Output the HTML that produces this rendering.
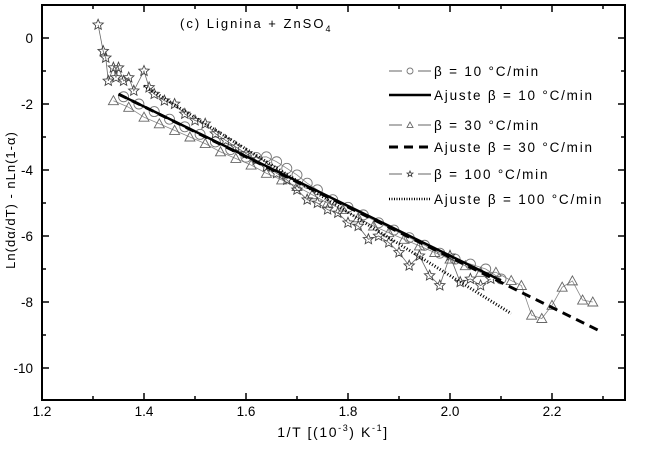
<!DOCTYPE html>
<html><head><meta charset="utf-8"><style>
body{margin:0;background:#fff}
svg text{font-family:"Liberation Sans",sans-serif;fill:#000}
</style></head><body>
<svg id="chart" width="650" height="444" viewBox="0 0 650 444">
<g id="plot"></g>
<rect x="42" y="5" width="583" height="395" fill="none" stroke="#000" stroke-width="2"/>
<g id="axes"></g>
<text x="180" y="28" font-size="13" letter-spacing="2">(c) Lignina + ZnSO<tspan font-size="9" dy="4">4</tspan></text>
<text x="333" y="437" font-size="14" text-anchor="middle" letter-spacing="1.6">1/T  [(10<tspan font-size="9" dy="-6">-3</tspan><tspan dy="6">) K</tspan><tspan font-size="9" dy="-6">-1</tspan><tspan dy="6">]</tspan></text>
<text transform="translate(15,200) rotate(-90)" font-size="13" text-anchor="middle" letter-spacing="1">Ln(dα/dT) - nLn(1-α)</text>
<g id="legend"></g>
</svg>
<script>
const x10=[1.36,1.39,1.42,1.45,1.48,1.51,1.54,1.57,1.60,1.62,1.64,1.66,1.68,1.70,1.72,1.74,1.77,1.80,1.83,1.86,1.89,1.92,1.95,1.98,2.01,2.04,2.07,2.10];
const y10=[-1.78,-2.0,-2.23,-2.46,-2.69,-2.92,-3.15,-3.38,-3.61,-3.62,-3.6,-3.75,-3.95,-4.15,-4.4,-4.6,-4.9,-5.13,-5.36,-5.6,-5.82,-6.05,-6.28,-6.52,-6.7,-6.85,-7.0,-7.3];
const x30=[1.34,1.37,1.40,1.43,1.46,1.49,1.52,1.55,1.58,1.61,1.64,1.67,1.70,1.73,1.76,1.79,1.82,1.85,1.88,1.91,1.94,1.97,2.00,2.03,2.06,2.09,2.12,2.14,2.16,2.18,2.20,2.22,2.24,2.26,2.28];
const y30=[-1.9,-2.1,-2.4,-2.6,-2.8,-3.0,-3.2,-3.45,-3.65,-3.85,-4.1,-4.3,-4.5,-4.75,-5.0,-5.2,-5.45,-5.7,-5.9,-6.1,-6.3,-6.5,-6.7,-6.9,-7.1,-7.1,-7.35,-7.5,-8.4,-8.5,-8.1,-7.55,-7.36,-7.94,-8.0];
const x100=[1.31,1.32,1.325,1.33,1.34,1.345,1.35,1.36,1.37,1.38,1.40,1.41,1.42,1.44,1.46,1.48,1.50,1.52,1.54,1.56,1.58,1.60,1.62,1.64,1.66,1.68,1.70,1.72,1.74,1.76,1.78,1.80,1.82,1.84,1.86,1.88,1.90,1.92,1.94,1.96,1.98,2.00,2.02,2.04,2.06,2.08];
const y100=[0.4,-0.4,-0.6,-1.3,-0.9,-1.2,-0.9,-1.3,-1.2,-1.6,-1.0,-1.5,-1.7,-1.9,-2.0,-2.3,-2.5,-2.6,-2.9,-3.1,-3.3,-3.5,-3.7,-3.9,-4.1,-4.3,-4.6,-4.9,-5.0,-5.2,-5.3,-5.6,-5.7,-6.1,-6.0,-6.2,-6.5,-6.9,-6.6,-7.2,-7.5,-6.6,-7.4,-7.3,-7.5,-7.3];
const fit10X=[1.35,2.10], fit10Y=[-1.7,-7.35];
const fit30X=[1.35,2.29], fit30Y=[-1.7,-8.85];
const fit100X=[1.40,2.12], fit100Y=[-1.45,-8.35];
const xTicks=[1.2,1.4,1.6,1.8,2.0,2.2];
const xTickLabels=["1.2","1.4","1.6","1.8","2.0","2.2"];
const yTicks=[0,-2,-4,-6,-8,-10];
const yTickLabels=["0","-2","-4","-6","-8","-10"];
const legendLabels=["β = 10 °C/min","Ajuste β = 10 °C/min","β = 30 °C/min","Ajuste β = 30 °C/min","β = 100 °C/min","Ajuste β = 100 °C/min"];

const NS="http://www.w3.org/2000/svg";
const X=v=>42+(v-1.2)*510, Y=v=>38-v*33;
function mk(tag,attrs,parent){const e=document.createElementNS(NS,tag);for(const k in attrs)e.setAttribute(k,attrs[k]);parent.appendChild(e);return e;}
const plot=document.getElementById('plot'), axes=document.getElementById('axes'), leg=document.getElementById('legend');

for(let v=1.2;v<2.35;v+=0.1){const px=X(v);const major=Math.abs(Math.round(v*10)%2)===0;const l=major?7:4;
 let t=mk('line',{x1:px,x2:px,y1:400,y2:400-l,stroke:'#000','stroke-width':1.5},axes);
 
 t=mk('line',{x1:px,x2:px,y1:5,y2:5+l,stroke:'#000','stroke-width':1.5},axes);
 }
xTicks.forEach((v,i)=>{const t=mk('text',{x:X(v),y:416,'font-size':13.5,'text-anchor':'middle'},axes);t.textContent=xTickLabels[i];
 });
for(let v=1;v>=-10.9;v-=1){const py=Y(v);const l=(Math.round(v)%2===0)?7:4;
 let t=mk('line',{x1:42,x2:42+l,y1:py,y2:py,stroke:'#000','stroke-width':1.5},axes);
 
 t=mk('line',{x1:625,x2:625-l,y1:py,y2:py,stroke:'#000','stroke-width':1.5},axes);
 }
yTicks.forEach((v,i)=>{const t=mk('text',{x:33,y:Y(v)+5,'font-size':13.5,'text-anchor':'end'},axes);t.textContent=yTickLabels[i];
 });

function poly(xs,ys,attrs,name){const p=mk('polyline',Object.assign({points:xs.map((x,i)=>X(x)+','+Y(ys[i])).join(' '),fill:'none'},attrs),plot);
 }
function star(cx,cy,r){let pts=[];for(let i=0;i<10;i++){const a=-Math.PI/2+i*Math.PI/5;const rr=i%2?r*0.45:r;pts.push((cx+rr*Math.cos(a)).toFixed(1)+','+(cy+rr*Math.sin(a)).toFixed(1));}return pts.join(' ');}
function marker(type,cx,cy,r,parent){let m;
 if(type==='c')m=mk('circle',{cx,cy,r,fill:'none',stroke:'#777','stroke-width':0.9},parent);
 else if(type==='t')m=mk('polygon',{points:`${cx},${cy-r} ${cx-r},${cy+r*0.8} ${cx+r},${cy+r*0.8}`,fill:'none',stroke:'#666','stroke-width':0.9},parent);
 else m=mk('polygon',{points:star(cx,cy,r),fill:'none',stroke:'#444','stroke-width':0.9},parent);
 return m;}

poly(x10,y10,{stroke:'#888','stroke-width':0.8},'series-10-line');
poly(x30,y30,{stroke:'#888','stroke-width':0.8},'series-30-line');
poly(x100,y100,{stroke:'#666','stroke-width':0.8},'series-100-line');
x10.forEach((x,i)=>{const m=marker('c',X(x),Y(y10[i]),5,plot);});
x30.forEach((x,i)=>{const m=marker('t',X(x),Y(y30[i]),5,plot);});
x100.forEach((x,i)=>{const m=marker('s',X(x),Y(y100[i]),5.5,plot);});
poly(fit10X,fit10Y,{stroke:'#000','stroke-width':2.5},'fit-10');
poly(fit30X,fit30Y,{stroke:'#000','stroke-width':3,'stroke-dasharray':'9,6'},'fit-30');
poly(fit100X,fit100Y,{stroke:'#000','stroke-width':3,'stroke-dasharray':'1,2'},'fit-100');

const rows=[71,95,125,147,174,199];
const styles=[{t:'c'},{s:{stroke:'#000','stroke-width':2.5}},{t:'t'},{s:{stroke:'#000','stroke-width':3,'stroke-dasharray':'9,6'}},{t:'s'},{s:{stroke:'#000','stroke-width':2.5,'stroke-dasharray':'1,1.5'}}];
rows.forEach((y,i)=>{const g=mk('g',{},leg);
 const st=styles[i];
 if(st.t){mk('line',{x1:389,x2:402,y1:y,y2:y,stroke:'#666','stroke-width':1},g);mk('line',{x1:418,x2:431,y1:y,y2:y,stroke:'#666','stroke-width':1},g);marker(st.t,410,y,3,g);}
 else mk('line',Object.assign({x1:389,x2:431,y1:y,y2:y},st.s),g);
 const t=mk('text',{x:434,y:y+5,'font-size':13.5,'letter-spacing':'1.8'},g);t.textContent=legendLabels[i];});
</script>
</body></html>
